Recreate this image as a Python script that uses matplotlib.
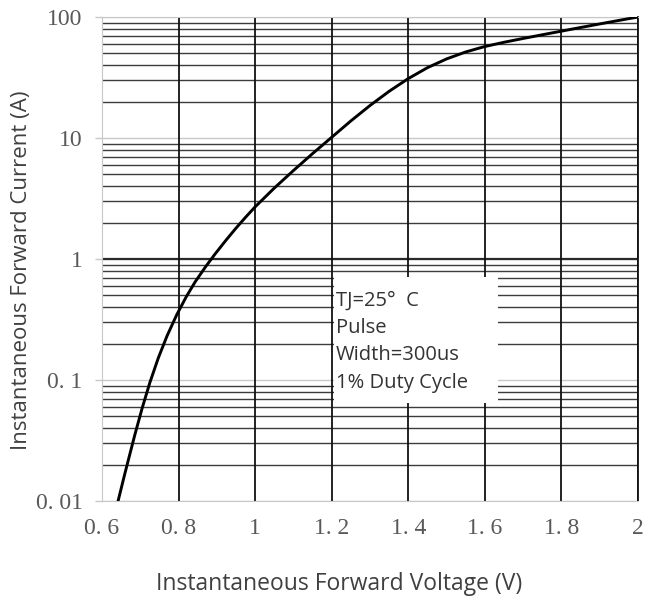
"""
Forward characteristic: instantaneous forward current vs forward voltage,
log current axis, datasheet-style grid.
"""

import matplotlib
matplotlib.use("Agg")
import matplotlib.pyplot as plt
from matplotlib.ticker import FixedLocator, NullFormatter

# Curve (V, A)
voltage = [0.642, 0.660, 0.686, 0.705, 0.725, 0.747, 0.770, 0.795, 0.820,
           0.843, 0.870, 0.895, 0.925, 0.950, 0.975, 1.000, 1.050, 1.100,
           1.150, 1.200, 1.250, 1.300, 1.350, 1.400, 1.450, 1.500, 1.550,
           1.600, 1.650, 1.700, 1.750, 1.800, 1.850, 1.900, 1.950, 2.000]
current = [0.0100, 0.0170, 0.0355, 0.0587, 0.0952, 0.152, 0.232, 0.345,
           0.487, 0.645, 0.858, 1.097, 1.445, 1.799, 2.213, 2.698, 3.855,
           5.383, 7.430, 10.14, 13.84, 18.56, 24.32, 30.97, 38.11, 45.03,
           51.40, 57.02, 61.80, 66.45, 71.29, 76.38, 81.85, 87.60, 93.65,
           100.0]

x_ticks = [0.6, 0.8, 1.0, 1.2, 1.4, 1.6, 1.8, 2.0]
x_labels = ["0. 6", "0. 8", "1", "1. 2", "1. 4", "1. 6", "1. 8", "2"]
y_ticks = [0.01, 0.1, 1, 10, 100]
y_labels = ["0. 01", "0. 1", "1", "10", "100"]

note_lines = ["TJ=25\u00b0  C", "Pulse", "Width=300us", "1% Duty Cycle"]

TICK_FONT = "Liberation Serif"
LABEL_FONT = "Open Sans"

fig = plt.figure(figsize=(6.56, 6.0), dpi=100)
ax = fig.add_axes([0.1555, 0.165, 0.8171, 0.8067])

ax.set_yscale("log")
ax.set_xlim(0.6, 2.0)
ax.set_ylim(0.01, 100)

# horizontal grid: light decade lines, dark 2..9 lines
minor = [m * 10.0 ** e for e in range(-2, 2) for m in range(2, 10)]
for y in minor:
    ax.axhline(y, color="#3c3c3c", lw=1.0, zorder=1)
for y in y_ticks:
    ax.axhline(y, color="#c8c8c8", lw=1.0, zorder=1)
ax.axhline(1, color="#2a2a2a", lw=1.6, zorder=1)

# vertical grid
for x in x_ticks[1:]:
    ax.axvline(x, color="#111111", lw=1.3, zorder=1)

# note box (white area hiding the grid)
bx0, bx1, by0, by1 = 1.205, 1.634, 0.0645, 0.71
ax.fill([bx0, bx1, bx1, bx0], [by0, by0, by1, by1], color="white",
        lw=0, zorder=2)
note_y = [0.45, 0.27, 0.162, 0.095]
for txt, yy in zip(note_lines, note_y):
    ax.text(1.21, yy, txt, fontsize=14.5, family=LABEL_FONT, color="#333333",
            va="center", ha="left", zorder=3)

ax.plot(voltage, current, color="black", lw=2.1, zorder=4,
        solid_joinstyle="round")

for side in ["left", "top", "bottom"]:
    ax.spines[side].set_color("#c8c8c8")
ax.spines["right"].set_color("#111111")
ax.spines["right"].set_linewidth(1.3)

ax.xaxis.set_major_locator(FixedLocator(x_ticks))
ax.set_xticklabels(x_labels)
ax.yaxis.set_major_locator(FixedLocator(y_ticks))
ax.yaxis.set_minor_locator(FixedLocator([]))
ax.yaxis.set_minor_formatter(NullFormatter())
ax.set_yticklabels(y_labels)

ax.tick_params(axis="x", length=0, pad=12, labelsize=17, labelcolor="#595959")
ax.tick_params(axis="y", length=5, width=1, color="#c8c8c8", pad=9,
               labelsize=17, labelcolor="#595959")
for lab in ax.get_xticklabels() + ax.get_yticklabels():
    lab.set_family(TICK_FONT)

# axis titles placed in figure pixels, as in the reference
fig.text(339 / 656, 1 - 584 / 600, "Instantaneous Forward Voltage (V)",
         fontsize=16.5, family=LABEL_FONT, color="#404040",
         ha="center", va="center")
fig.text(22 / 656, 1 - 270 / 600, "Instantaneous Forward Current (A)",
         fontsize=16, family=LABEL_FONT, color="#404040",
         ha="center", va="center", rotation=90)

fig.savefig("out.png", dpi=100)
